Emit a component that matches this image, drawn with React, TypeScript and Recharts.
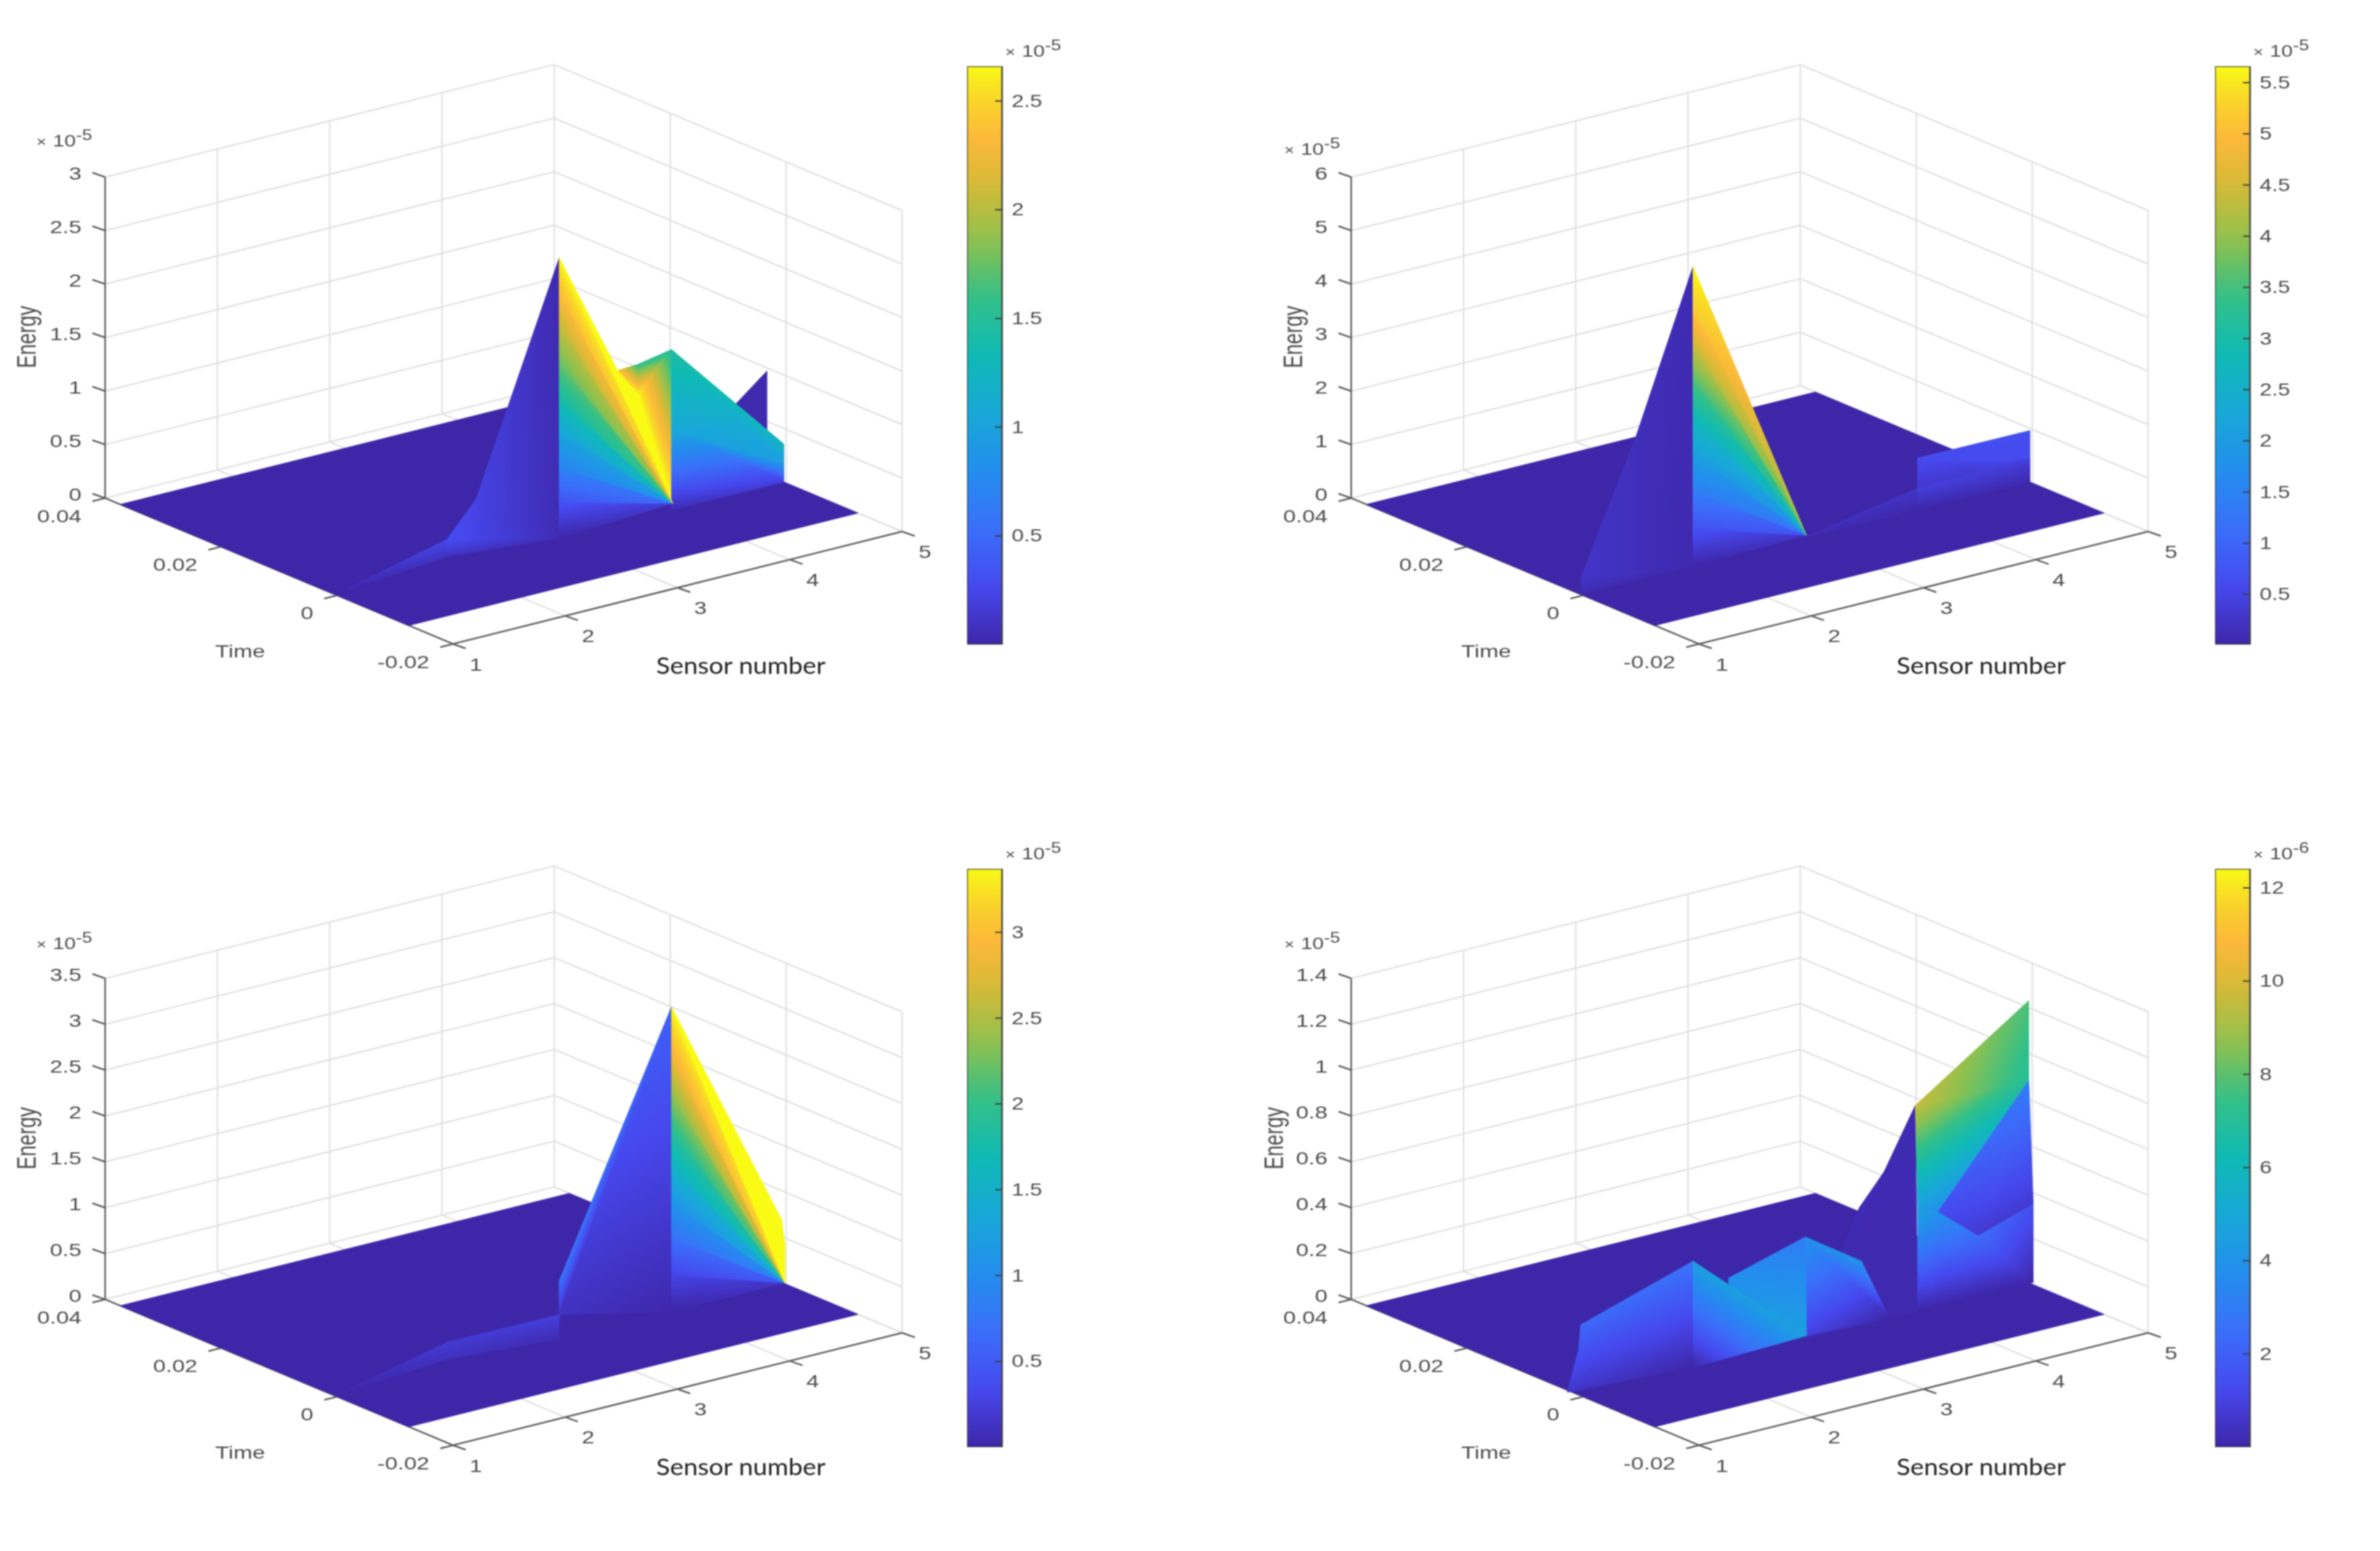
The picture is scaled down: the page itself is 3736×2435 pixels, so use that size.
import { Bar, BarChart, Scatter, ScatterChart, XAxis, YAxis } from "recharts";

// one vertex of the surface: [sensor, energy, colour value], all on the ridge time
type Vertex = [number, number, number];
// colour bands that converge on one corner: rim vertices fanned round a pivot
type Wedge = { pivot: number[]; pivotShare: number; rim: Vertex[] };

const sensorTicks = [1, 2, 3, 4, 5];
const timeTicks = [0.04, 0.02, 0, -0.02];
const floorTimes = [0.0374, -0.0124];
const ridgeTime = 0.0004;

const energyTicksA = [0, 0.5, 1, 1.5, 2, 2.5, 3];
const energyTicksB = [0, 1, 2, 3, 4, 5, 6];
const energyTicksC = [0, 0.5, 1, 1.5, 2, 2.5, 3, 3.5];
const energyTicksD = [0, 0.2, 0.4, 0.6, 0.8, 1, 1.2, 1.4];

const colorTicksA = [0.5, 1, 1.5, 2, 2.5];
const colorTicksB = [0.5, 1, 1.5, 2, 2.5, 3, 3.5, 4, 4.5, 5, 5.5];
const colorTicksC = [0.5, 1, 1.5, 2, 2.5, 3];
const colorTicksD = [2, 4, 6, 8, 10, 12];

const facetsA: Vertex[][] = [
  [[4.56, 0.83, 0.02], [4.85, 1.076, 0.02], [4.85, 0.4, 0.02]],
  [[1, 0, 0], [2, 0.25, 0.25], [2, 0.09, 0.1]],
  [[3, 0, 0.05], [2, 0.09, 0.1], [2, 0.25, 0.3], [2.26, 0.56, 0.22], [3, 2.62, 0.03]],
  [[3.52, 1.43, 2.4], [3.7, 1.44, 1.55], [3.7, 1.16, 2.66]],
  [[3.7, 1.44, 1.55], [4, 1.5, 1.45], [3.7, 1.16, 2.66]],
  [[4, 1.5, 1.45], [4.01, 0.06, 2.66], [3.7, 1.16, 2.66]],
  [[3.52, 1.43, 2.66], [3.7, 1.16, 2.66], [4.01, 0.06, 2.66]],
  [[4, 1.5, 1.45], [5, 0.355, 1.25], [5, 0.18, 0.95], [4, 0.75, 1.05]],
  [[4, 0.75, 1.05], [5, 0.18, 0.95], [5, 0, 0.2], [4, 0, 0.05]],
  [[3, 2.62, 2.66], [3.52, 1.43, 2.66], [4.01, 0.06, 2.66]],
];

const wedgeA: Wedge = {
  pivot: [4.01, 0.06],
  pivotShare: 1,
  rim: [
    [3, 0, 0], [3, 0.33, 0.33], [3, 0.66, 0.7], [3, 1, 1.05], [3, 1.3, 1.4],
    [3, 1.65, 1.75], [3, 2, 2.05], [3, 2.3, 2.35], [3, 2.62, 2.66],
  ],
};

const facetsB: Vertex[][] = [
  [[3, 0.02, 0.1], [4, 0.41, 0.25], [4, 0, 0.03]],
  [[4, 0.97, 0.62], [5, 0.96, 0.65], [5, 0.44, 0.6], [5, 0, 0.1], [4, 0, 0.05]],
  [[4, 0.41, 0.42], [5, 0.44, 0.42], [5, 0, 0.05], [4, 0, 0.02]],
  [[2, 0, 0.05], [1, 0, 0.05], [1, 0.3, 0.25], [1.49, 2.68, 0.15], [2, 5.6, 0.08]],
];

const wedgeB: Wedge = {
  pivot: [3.01, 0.05],
  pivotShare: 0.72,
  rim: [
    [2, 0, 0], [2, 0.7, 0.7], [2, 1.4, 1.4], [2, 2.1, 2.1], [2, 2.8, 2.8],
    [2, 3.5, 3.6], [2, 4.2, 4.5], [2, 4.9, 5.3], [2, 5.6, 5.66],
  ],
};

const facetsC: Vertex[][] = [
  [[1, 0, 0], [2, 0.276, 0.2], [2, 0.09, 0.1]],
  [[2, 0.276, 0.2], [3, 0.27, 0.25], [3, 0, 0.05], [2, 0.09, 0.1]],
  [[3, 0.27, 0.12], [4, 0, 0.02], [4, 1.7, 0.28], [4, 3.32, 0.55], [3, 0.64, 0.75]],
];

const wedgeC: Wedge = {
  pivot: [5.01, 0],
  pivotShare: 1,
  rim: [
    [4, 0, 0], [4, 0.4, 0.3], [4, 0.8, 0.7], [4, 1.2, 1.1], [4, 1.6, 1.55], [4, 2, 1.95],
    [4, 2.4, 2.4], [4, 2.8, 2.85], [4, 3.32, 3.37], [4.98, 0.7, 3.37], [5.01, 0.42, 3.37],
  ],
};

const facetsD: Vertex[][] = [
  [[3, 0, 0.1], [3.48, 0.515, 0.2], [3.77, 0.685, 0.3], [3.98, 0.9, 0.2], [4, 0, 0.1]],
  [[3, 0.447, 4], [3.5, 0.28, 4], [3.75, 0, 0], [3, 0.015, 1]],
  [[2.316, 0.351, 3.8], [3, 0.447, 3], [3.01, 0.015, 4.6], [2.316, 0.2, 4]],
  [[2, 0.464, 2.6], [1, 0.309, 2.3], [0.98, 0.2, 1.6], [0.88, 0.03, 0.6], [2, 0, 0]],
  [[2, 0.464, 4.6], [3.01, 0.015, 4.6], [2, 0, 0]],
  [[4, 0.45, 4.8], [4.18, 0.414, 4], [4.18, 0, 0], [4, 0, 0]],
  [[4.18, 0.414, 4], [4.54, 0.265, 2.4], [4.54, 0, 0], [4.18, 0, 0]],
  [[4.54, 0.265, 2.4], [5.03, 0.344, 1.5], [5.03, 0, 0], [4.54, 0, 0]],
  [[4.99, 0.889, 3], [4.18, 0.414, 1.4], [4.54, 0.265, 0.7], [5.03, 0.344, 0.7]],
  [[3.98, 0.9, 9.6], [4.17, 0.9, 9.8], [4.5, 1.004, 9.4], [4.99, 1.233, 7.8], [4.99, 0.889, 7], [4.18, 0.414, 3.8], [4, 0.45, 4.5]],
];

const parulaStops: [number, number[]][] = [
  [0, [62, 38, 168]],
  [0.1, [70, 72, 238]],
  [0.2, [58, 111, 250]],
  [0.3, [35, 142, 238]],
  [0.4, [24, 168, 216]],
  [0.5, [15, 186, 181]],
  [0.6, [51, 192, 136]],
  [0.7, [144, 193, 78]],
  [0.8, [217, 186, 54]],
  [0.875, [253, 185, 58]],
  [0.95, [249, 217, 40]],
  [1, [249, 251, 21]],
];

const OX = 164;
const OY = 722;
const CHART_W = 1500;
const CHART_H = 1020;
const GRID = "#e2e2e2";
const AXIS = "#5c5c5c";
const TEXT = "#4d4d4d";

function parula(f: number) {
  const v = Math.min(1, Math.max(0, f));
  for (let i = 1; i < parulaStops.length; i++) {
    const [p1, c1] = parulaStops[i];
    if (v <= p1) {
      const [p0, c0] = parulaStops[i - 1];
      const k = (v - p0) / (p1 - p0);
      return `rgb(${c0.map((c, j) => Math.round(c + (c1[j] - c) * k)).join(",")})`;
    }
  }
  return "rgb(249,251,21)";
}

let gradientId = 0;

// colour varies linearly over a triangle, so one linear gradient reproduces the interpolated shading
function shadedTriangle(values: number[], top: number) {
  return (props: any) => {
    const [p0, p1, p2] = props.points;
    const [c0, c1, c2] = values;
    const path = `${p0.x},${p0.y} ${p1.x},${p1.y} ${p2.x},${p2.y}`;
    const det = (p1.x - p0.x) * (p2.y - p0.y) - (p2.x - p0.x) * (p1.y - p0.y);
    const lo = Math.min(c0, c1, c2);
    const hi = Math.max(c0, c1, c2);
    if (hi - lo < 1e-6 || Math.abs(det) < 1e-6) {
      const solid = parula(c0 / top);
      return <polygon points={path} fill={solid} stroke={solid} strokeWidth={1} />;
    }
    const a = ((c1 - c0) * (p2.y - p0.y) - (c2 - c0) * (p1.y - p0.y)) / det;
    const b = ((c2 - c0) * (p1.x - p0.x) - (c1 - c0) * (p2.x - p0.x)) / det;
    const start = values.indexOf(lo) === 0 ? p0 : values.indexOf(lo) === 1 ? p1 : p2;
    const g2 = a * a + b * b;
    const id = `shade${gradientId++}`;
    const steps = Array.from({ length: 17 }, (_, i) => i / 16);
    return (
      <g>
        <defs>
          <linearGradient
            id={id}
            gradientUnits="userSpaceOnUse"
            x1={start.x}
            y1={start.y}
            x2={start.x + (a / g2) * (hi - lo)}
            y2={start.y + (b / g2) * (hi - lo)}
          >
            {steps.map((s) => (
              <stop key={s} offset={s} stopColor={parula((lo + (hi - lo) * s) / top)} />
            ))}
          </linearGradient>
        </defs>
        <polygon points={path} fill={`url(#${id})`} stroke={`url(#${id})`} strokeWidth={1} />
      </g>
    );
  };
}

function project(sensor: number, time: number, energy: number, zMax: number) {
  const a = (0.04 - time) / 0.06;
  const b = (sensor - 1) / 4;
  return {
    x: OX + 546 * a + 705 * b,
    y: OY + 229 * a - 176.5 * b - (504 * energy) / zMax,
  };
}

const noSymbol = () => null;

function TextMark(props: any) {
  const { cx, cy, payload } = props;
  const { label, anchor, dx = 0, dy = 0, rotate, fill = TEXT } = payload;
  const transform = rotate
    ? `translate(${cx + dx},${cy + dy}) rotate(-90) scale(1,1.35)`
    : `translate(${cx + dx},${cy + dy}) scale(1.28,1)`;
  return (
    <text
      transform={transform}
      textAnchor={anchor}
      dominantBaseline="central"
      fontFamily="Liberation Sans"
      fontSize={rotate ? 31 : 28}
      fill={fill}
    >
      {label}
    </text>
  );
}

function Multiplier({ x, y, exponent }: { x: number; y: number; exponent: string }) {
  return (
    <text transform={`translate(${x},${y}) scale(1.25,1)`} fontFamily="Liberation Sans" fontSize={26} fill={TEXT}>
      <tspan fontSize={22}>×</tspan>
      <tspan dx={8}>10</tspan>
      <tspan fontSize={23} dy={-10}>{exponent}</tspan>
    </text>
  );
}

function SensorLabel(props: any) {
  return (
    <text x={props.cx} y={props.cy} fontFamily="Lato" fontSize={37} fill="#222222" textLength={266} lengthAdjust="spacingAndGlyphs">
      Sensor number
    </text>
  );
}

function MultiplierMark(props: any) {
  return <Multiplier x={props.cx} y={props.cy} exponent={props.payload.exponent} />;
}

function Surface3D({
  left,
  top,
  energyTicks,
  facets,
  wedge,
  colorTop,
  energyX,
  sensorX,
  multiplierX,
  multiplierY,
}: {
  left: number;
  top: number;
  energyTicks: number[];
  facets: Vertex[][];
  wedge?: Wedge;
  colorTop: number;
  energyX: number;
  sensorX: number;
  multiplierX: number;
  multiplierY: number;
}) {
  const zMax = energyTicks[energyTicks.length - 1];
  const segments: { x: number; y: number }[][] = [];
  const axes: { x: number; y: number }[][] = [];
  const p = (s: number, t: number, z: number) => project(s, t, z, zMax);
  const tEnd = timeTicks[timeTicks.length - 1];

  energyTicks.forEach((z) => {
    segments.push([p(1, 0.04, z), p(5, 0.04, z), p(5, tEnd, z)]);
  });
  sensorTicks.slice(1).forEach((s) => {
    segments.push([p(s, 0.04, 0), p(s, 0.04, zMax)]);
    segments.push([p(s, 0.04, 0), p(s, tEnd, 0)]);
  });
  timeTicks.slice(1).forEach((t) => {
    segments.push([p(5, t, 0), p(5, t, zMax)]);
    segments.push([p(1, t, 0), p(5, t, 0)]);
  });

  axes.push([p(1, 0.04, zMax), p(1, 0.04, 0), p(1, tEnd, 0), p(5, tEnd, 0)]);
  energyTicks.forEach((z) => {
    const at = p(1, 0.04, z);
    axes.push([at, { x: at.x - 20, y: at.y - 7 }]);
  });
  timeTicks.forEach((t) => {
    const at = p(1, t, 0);
    axes.push([at, { x: at.x - 20, y: at.y + 5 }]);
  });
  sensorTicks.forEach((s) => {
    const at = p(s, tEnd, 0);
    axes.push([at, { x: at.x + 20, y: at.y + 7 }]);
  });

  const floor = [
    p(1, floorTimes[0], 0),
    p(1, floorTimes[1], 0),
    p(5, floorTimes[1], 0),
    p(5, floorTimes[0], 0),
  ];

  // polygons go in as fans of triangles, back to front
  const triangles: { x: number; y: number }[][] = [];
  const triangleValues: number[][] = [];
  const addTriangle = (tri: Vertex[]) => {
    triangles.push(tri.map(([s, z]) => p(s, ridgeTime, z)));
    triangleValues.push(tri.map((v) => v[2]));
  };
  facets.forEach((face) => {
    for (let i = 1; i < face.length - 1; i++) {
      addTriangle([face[0], face[i], face[i + 1]]);
    }
  });
  if (wedge) {
    for (let i = 0; i < wedge.rim.length - 1; i++) {
      const [r0, r1] = [wedge.rim[i], wedge.rim[i + 1]];
      const pivotValue = ((r0[2] + r1[2]) / 2) * wedge.pivotShare;
      addTriangle([[wedge.pivot[0], wedge.pivot[1], pivotValue], r0, r1]);
    }
  }

  const labels = [
    ...energyTicks.map((z) => ({ ...p(1, 0.04, z), label: String(z), anchor: "end", dx: -37, dy: -6 })),
    ...timeTicks.map((t) => ({ ...p(1, t, 0), label: String(t), anchor: "end", dx: -37, dy: 28 })),
    ...sensorTicks.map((s) => ({ ...p(s, tEnd, 0), label: String(s), anchor: "middle", dx: 36, dy: 32 })),
    { x: OX + 212, y: OY + 240, label: "Time", anchor: "middle" },
    { x: OX + energyX, y: OY - 253, label: "Energy", anchor: "middle", rotate: true },
  ];

  return (
    <div style={{ position: "absolute", left: left - OX, top: top - OY }}>
      <ScatterChart width={CHART_W} height={CHART_H} margin={{ top: 0, right: 0, bottom: 0, left: 0 }}>
        <XAxis type="number" dataKey="x" domain={[0, CHART_W]} hide />
        <YAxis type="number" dataKey="y" domain={[0, CHART_H]} reversed hide />
        {segments.map((seg, i) => (
          <Scatter key={`g${i}`} data={seg} line={{ stroke: GRID, strokeWidth: 2.5 }} shape={noSymbol} isAnimationActive={false} />
        ))}
        {axes.map((seg, i) => (
          <Scatter key={`a${i}`} data={seg} line={{ stroke: AXIS, strokeWidth: 2.5 }} shape={noSymbol} isAnimationActive={false} />
        ))}
        <Scatter
          data={floor}
          shape={noSymbol}
          isAnimationActive={false}
          line={(props: any) => (
            <polygon points={props.points.map((q: any) => `${q.x},${q.y}`).join(" ")} fill={parula(0)} stroke={parula(0)} />
          )}
        />
        {triangles.map((tri, i) => (
          <Scatter key={`t${i}`} data={tri} shape={noSymbol} isAnimationActive={false} line={shadedTriangle(triangleValues[i], colorTop)} />
        ))}
        <Scatter data={labels} shape={TextMark} isAnimationActive={false} />
        <Scatter data={[{ x: OX + sensorX, y: OY + 276 }]} shape={SensorLabel} isAnimationActive={false} />
        <Scatter
          data={[{ x: OX + multiplierX, y: OY + multiplierY, exponent: "-5" }]}
          shape={MultiplierMark}
          isAnimationActive={false}
        />
      </ScatterChart>
    </div>
  );
}

function ColorBar({
  id,
  left,
  top,
  domain,
  ticks,
  exponent,
}: {
  id: string;
  left: number;
  top: number;
  domain: number[];
  ticks: number[];
  exponent: string;
}) {
  const data = [{ name: "colour", value: domain[1] }];
  const steps = Array.from({ length: 33 }, (_, i) => i / 32);
  return (
    <div style={{ position: "absolute", left, top: top - 70 }}>
      <BarChart width={250} height={978} data={data} barCategoryGap={0} margin={{ top: 70, right: 0, bottom: 0, left: 0 }}>
        <defs>
          <linearGradient id={id} x1="0" y1="1" x2="0" y2="0">
            {steps.map((s) => (
              <stop key={s} offset={s} stopColor={parula(s)} />
            ))}
          </linearGradient>
        </defs>
        <XAxis dataKey="name" hide />
        <YAxis
          orientation="right"
          type="number"
          width={195}
          domain={domain}
          ticks={ticks}
          allowDataOverflow
          axisLine={false}
          tickLine={false}
          tickSize={0}
          tickMargin={0}
          tick={(props: any) => (
            <g>
              <line x1={props.x - 11} x2={props.x} y1={props.y} y2={props.y} stroke="#3c3c3c" strokeWidth={2} />
              <text
                transform={`translate(${props.x + 15},${props.y}) scale(1.28,1)`}
                dominantBaseline="central"
                fontFamily="Liberation Sans"
                fontSize={27}
                fill={TEXT}
              >
                {props.payload.value}
              </text>
            </g>
          )}
        />
        <Bar dataKey="value" fill={`url(#${id})`} stroke="#3f3f3f" strokeWidth={2.5} isAnimationActive={false} />
        <Multiplier x={60} y={55} exponent={exponent} />
      </BarChart>
    </div>
  );
}

export default function App() {
  return (
    <div style={{ position: "relative", width: 3736, height: 2435, margin: -8, background: "#ffffff", overflow: "hidden", filter: "blur(1.2px)" }}>
      <Surface3D left={164.5} top={782} energyTicks={energyTicksA} facets={facetsA} wedge={wedgeA} colorTop={2.66} energyX={-123} sensorX={865} multiplierX={-108} multiplierY={-552} />
      <Surface3D left={2121} top={782} energyTicks={energyTicksB} facets={facetsB} wedge={wedgeB} colorTop={5.66} energyX={-91} sensorX={856} multiplierX={-105} multiplierY={-539} />
      <Surface3D left={164.5} top={2040} energyTicks={energyTicksC} facets={facetsC} wedge={wedgeC} colorTop={3.37} energyX={-123} sensorX={865} multiplierX={-108} multiplierY={-550} />
      <Surface3D left={2121} top={2040} energyTicks={energyTicksD} facets={facetsD} colorTop={12.41} energyX={-121} sensorX={856} multiplierX={-105} multiplierY={-550} />
      <ColorBar id="barA" left={1518} top={103.5} domain={[0, 2.66]} ticks={colorTicksA} exponent="-5" />
      <ColorBar id="barB" left={3477} top={103.5} domain={[0.01, 5.66]} ticks={colorTicksB} exponent="-5" />
      <ColorBar id="barC" left={1518} top={1363.5} domain={[0, 3.37]} ticks={colorTicksC} exponent="-5" />
      <ColorBar id="barD" left={3477} top={1363.5} domain={[0, 12.41]} ticks={colorTicksD} exponent="-6" />
    </div>
  );
}
